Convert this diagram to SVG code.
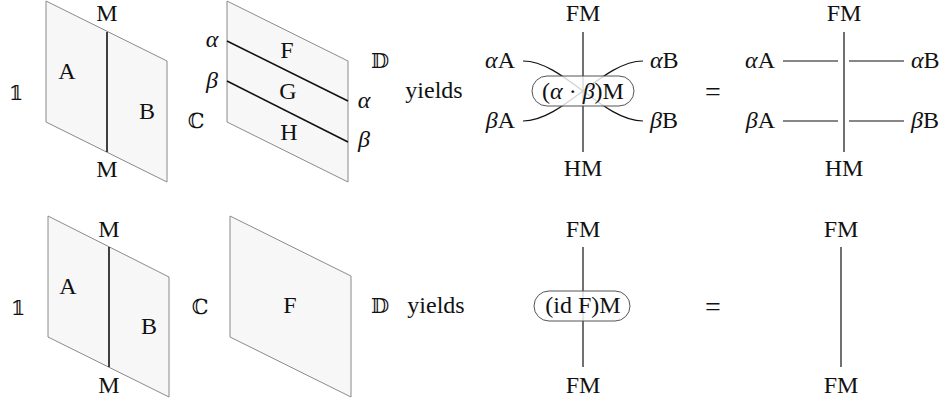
<svg xmlns="http://www.w3.org/2000/svg" width="948" height="401" viewBox="0 0 948 401">
<style>
text{font-family:"Liberation Serif","DejaVu Serif",serif;font-size:24px;fill:#111;text-anchor:middle}
.bb{font-family:"DejaVu Serif","DejaVu Sans",serif;font-size:21px}
.it{font-style:italic}
.st{text-anchor:start}
.en{text-anchor:end}
.eq{font-size:28px}
.sheet{fill:#f7f7f7;stroke:#8a8a8a;stroke-width:1}
.str{stroke:#111;stroke-width:1.6;fill:none}
.w{stroke:#111;stroke-width:1.2;fill:none}
.box{fill:#fff;fill-opacity:0.82;stroke:#555;stroke-width:1}
</style>
<rect width="948" height="401" fill="#fff"/>

<!-- Row 1 -->
<g id="row1-left">
  <text class="bb" x="16" y="100">𝟙</text>
  <polygon class="sheet" points="46,1 167,61 167,182 46,122"/>
  <line class="str" x1="107" y1="32" x2="107" y2="152"/>
  <text x="107" y="21">M</text>
  <text x="107" y="177">M</text>
  <text x="67" y="79">A</text>
  <text x="147" y="119">B</text>
  <text class="bb" x="196" y="128">ℂ</text>
</g>
<g id="row1-sheet2">
  <polygon class="sheet" points="227,1 348,61 348,182 227,122"/>
  <line class="str" x1="227" y1="41" x2="348" y2="101"/>
  <line class="str" x1="227" y1="81" x2="348" y2="142"/>
  <text class="it" x="212" y="47">α</text>
  <text class="it" x="212" y="88">β</text>
  <text x="287" y="58">F</text>
  <text x="288" y="99">G</text>
  <text x="289" y="140">H</text>
  <text class="bb" x="380" y="68">𝔻</text>
  <text class="it" x="364" y="108">α</text>
  <text class="it" x="364" y="147">β</text>
</g>
<text id="yields1" x="434" y="98">yields</text>
<g id="row1-string">
  <line class="w" x1="583" y1="32" x2="583" y2="152"/>
  <path class="w" d="M523,61 C563,61 603,121 643,121"/>
  <path class="w" d="M523,121 C563,121 603,61 643,61"/>
  <rect class="box" x="532" y="76" width="102" height="30" rx="15"/>
  <text x="583" y="99">(<tspan class="it">α</tspan> · <tspan class="it">β</tspan>)M</text>
  <text x="583" y="21">FM</text>
  <text x="583" y="176">HM</text>
  <text class="en" x="515" y="68"><tspan class="it">α</tspan>A</text>
  <text class="en" x="515" y="128"><tspan class="it">β</tspan>A</text>
  <text class="st" x="650" y="68"><tspan class="it">α</tspan>B</text>
  <text class="st" x="650" y="128"><tspan class="it">β</tspan>B</text>
</g>
<text id="eq1" class="eq" x="713" y="101">=</text>
<g id="row1-right">
  <line class="w" x1="844" y1="32" x2="844" y2="152"/>
  <line class="w" x1="783" y1="61" x2="838" y2="61"/>
  <line class="w" x1="849" y1="61" x2="904" y2="61"/>
  <line class="w" x1="783" y1="121" x2="838" y2="121"/>
  <line class="w" x1="849" y1="121" x2="904" y2="121"/>
  <text x="844" y="21">FM</text>
  <text x="844" y="176">HM</text>
  <text class="en" x="775" y="68"><tspan class="it">α</tspan>A</text>
  <text class="en" x="775" y="128"><tspan class="it">β</tspan>A</text>
  <text class="st" x="911" y="68"><tspan class="it">α</tspan>B</text>
  <text class="st" x="911" y="128"><tspan class="it">β</tspan>B</text>
</g>

<!-- Row 2 -->
<g id="row2-left">
  <text class="bb" x="18" y="315">𝟙</text>
  <polygon class="sheet" points="48,216 169,277 169,397 48,337"/>
  <line class="str" x1="109" y1="247" x2="109" y2="367"/>
  <text x="109" y="237">M</text>
  <text x="109" y="393">M</text>
  <text x="68" y="294">A</text>
  <text x="149" y="334">B</text>
  <text class="bb" x="200" y="314">ℂ</text>
</g>
<g id="row2-sheet2">
  <polygon class="sheet" points="230,216 351,276 351,397 230,337"/>
  <text x="290" y="313">F</text>
  <text class="bb" x="380" y="313">𝔻</text>
</g>
<text id="yields2" x="436" y="313">yields</text>
<g id="row2-string">
  <line class="w" x1="583" y1="247" x2="583" y2="367"/>
  <rect class="box" x="534" y="291" width="96" height="30" rx="15"/>
  <text x="583" y="313">(id F)M</text>
  <text x="583" y="237">FM</text>
  <text x="583" y="393">FM</text>
</g>
<text id="eq2" class="eq" x="713" y="316">=</text>
<g id="row2-right">
  <line class="w" x1="841" y1="247" x2="841" y2="367"/>
  <text x="841" y="237">FM</text>
  <text x="841" y="393">FM</text>
</g>
</svg>
